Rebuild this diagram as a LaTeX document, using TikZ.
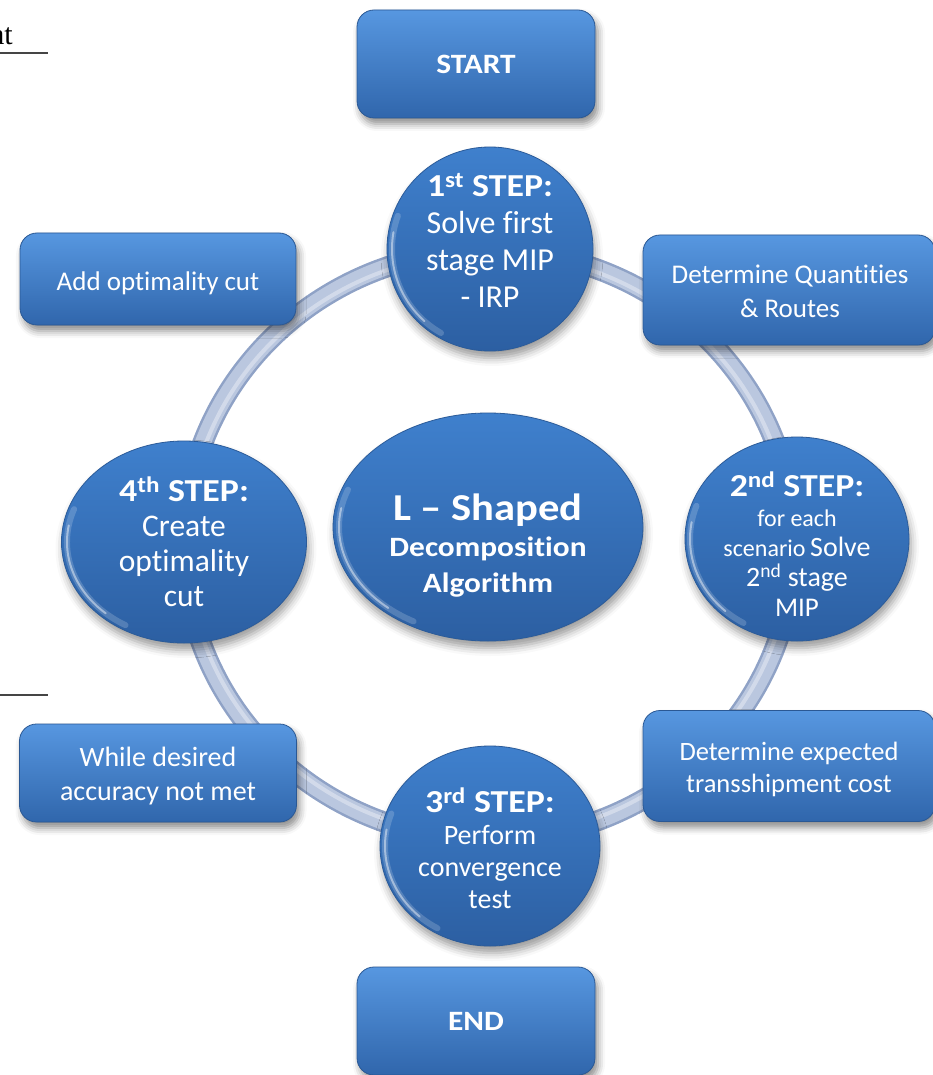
\documentclass[tikz,border=0pt]{standalone}
\usepackage{fontspec}
\setmainfont{Carlito}[Ligatures=NoCommon, BoldFeatures={FakeStretch=1.12}]
\newfontfamily\pagefont{Liberation Serif}
\usetikzlibrary{shapes.geometric,shadows.blur}

\definecolor{boxtop}{HTML}{5797E0}
\definecolor{boxmid}{HTML}{3F7CC8}
\definecolor{boxbot}{HTML}{3066AC}
\definecolor{boxedge}{HTML}{2A5894}
\definecolor{disctop}{HTML}{3F80CD}
\definecolor{discmid}{HTML}{3772BC}
\definecolor{discbot}{HTML}{2C5FA2}
\definecolor{discedge}{HTML}{2B5B99}
\definecolor{ringfill}{HTML}{BAC7DF}
\definecolor{ringedge}{HTML}{8FA2C6}
\definecolor{pagerule}{HTML}{454545}

\tikzset{
  flowbox/.style={rectangle, rounded corners=17pt, draw=boxedge, line width=0.8pt,
    top color=boxtop, middle color=boxmid, bottom color=boxbot,
    text=white, align=center, inner sep=0pt,
    font=\fontsize{27}{34}\selectfont,
    blur shadow={shadow xshift=3pt, shadow yshift=-6pt, shadow blur radius=7pt,
      shadow opacity=45}},
  endbox/.style={flowbox, font=\bfseries\fontsize{28}{34}\selectfont},
  disc/.style={ellipse, draw=discedge, line width=0.8pt, inner sep=0pt,
    top color=disctop, middle color=discmid, bottom color=discbot,
    blur shadow={shadow xshift=2pt, shadow yshift=-7pt, shadow blur radius=8pt,
      shadow opacity=40}},
  disctext/.style={text=white, align=center, inner sep=0pt},
  glosswide/.style={white, line width=6pt, opacity=0.18, line cap=round},
  glossthin/.style={white, line width=2pt, opacity=0.45, line cap=round}
}
\newcommand{\stephead}[1]{{\bfseries\fontsize{32}{37}\selectfont #1}}
% soft light rim along the lower left of a disc: centre, x radius, y radius
\newcommand{\discrim}[3]{%
  \draw[glosswide] (#1) ++(160:#2 and #3) arc[start angle=160, end angle=240, x radius=#2, y radius=#3];
  \draw[glossthin] (#1) ++(170:#2 and #3) arc[start angle=170, end angle=228, x radius=#2, y radius=#3];}

\begin{document}
\begin{tikzpicture}[x=1pt, y=-1pt]
  \useasboundingbox (0,0) rectangle (933,1075);
  \clip (0,0) rectangle (933,1075);

  % fragments of the surrounding page
  \node[anchor=base east, inner sep=0pt, font=\pagefont\fontsize{30}{30}\selectfont] (pageword) at (13,45) {at};
  \coordinate (ruleAstart) at (0,53);
  \coordinate (ruleAend) at (48,53);
  \coordinate (ruleBstart) at (0,695);
  \coordinate (ruleBend) at (48,695);
  \draw[pagerule, line width=2pt] (ruleAstart) -- (ruleAend);
  \draw[pagerule, line width=2pt] (ruleBstart) -- (ruleBend);

  % the cycle ring
  \node[ellipse, minimum width=610pt, minimum height=590pt, inner sep=0pt,
        draw=ringedge, line width=2.5pt, double=ringfill, double distance=16pt] (ring) at (489,545) {};
  \draw[white, opacity=0.35, line width=4pt] (489,545) ellipse[x radius=302pt, y radius=292pt];

  % rectangular boxes
  \node[endbox, minimum width=238pt, minimum height=108pt] (start) at (476,64) {START};
  \node[endbox, minimum width=238pt, minimum height=108pt] (end) at (476,1021) {END};
  \node[flowbox, minimum width=276pt, minimum height=92pt] (addcut) at (158,279) {};
  \node[disctext, font=\fontsize{27}{34}\selectfont] (addcuttext) at (158,283) {Add optimality cut};
  \node[flowbox, minimum width=292pt, minimum height=110pt] (quant) at (789,290) {};
  \node[disctext, font=\fontsize{27}{34}\selectfont] (quanttext) at (790,291) {Determine Quantities\\ \& Routes};
  \node[flowbox, minimum width=292pt, minimum height=111pt] (expcost) at (789,766) {};
  \node[disctext, font=\fontsize{26.5}{32}\selectfont] (expcosttext) at (789,769) {Determine expected\\ transshipment cost};
  \node[flowbox, minimum width=277pt, minimum height=98pt] (accuracy) at (158,773) {};
  \node[disctext, font=\fontsize{28}{34}\selectfont] (accuracytext) at (158,776) {While desired\\ accuracy not met};

  % step discs
  \node[disc, minimum width=206pt, minimum height=204pt] (s1) at (490,249) {};
  \node[disc, minimum width=224pt, minimum height=204pt] (s2) at (797,539) {};
  \node[disc, minimum width=220pt, minimum height=200pt] (s3) at (490,846) {};
  \node[disc, minimum width=245pt, minimum height=202pt] (s4) at (184,542) {};
  \node[disc, minimum width=310pt, minimum height=228pt] (core) at (488,527) {};

  % glossy rims on the lower left of each disc
  \discrim{s1.center}{98pt}{97pt}
  \discrim{s2.center}{107pt}{97pt}
  \discrim{s3.center}{105pt}{95pt}
  \discrim{s4.center}{117pt}{96pt}
  \discrim{core.center}{149pt}{109pt}

  % disc texts
  \node[disctext, font=\fontsize{32}{37}\selectfont] (t1) at (490,240)
    {\stephead{1\textsuperscript{st} STEP:}\\ Solve first\\ stage MIP\\ - IRP};
  \node[disctext, font=\fontsize{28}{30}\selectfont] (t2) at (797,544)
    {\stephead{2\textsuperscript{nd} STEP:}\\ {\fontsize{24}{30}\selectfont for each}\\ {\fontsize{24}{30}\selectfont scenario}\,Solve\\ 2\textsuperscript{nd} stage\\ {\fontsize{27}{30}\selectfont MIP}};
  \node[disctext, font=\fontsize{28}{32}\selectfont] (t3) at (490,848)
    {\stephead{3\textsuperscript{rd} STEP:}\\ Perform\\ convergence\\ test};
  \node[disctext, font=\fontsize{31.5}{35}\selectfont] (t4) at (184,542)
    {\stephead{4\textsuperscript{th} STEP:}\\ Create\\ optimality\\ cut};
  \node[disctext, font=\bfseries\fontsize{28}{36}\selectfont] (tc) at (488,546)
    {{\fontsize{38}{38}\selectfont L -- Shaped}\\ Decomposition\\ Algorithm};
\end{tikzpicture}
\end{document}
